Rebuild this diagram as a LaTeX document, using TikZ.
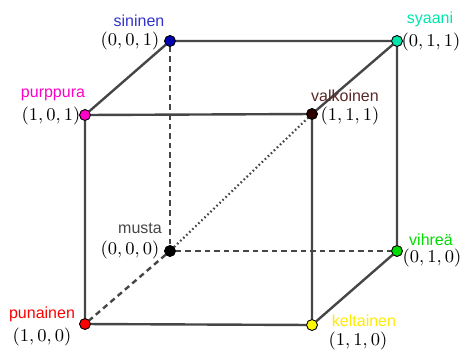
\documentclass[tikz,border=0pt]{standalone}
\usepackage{fontspec}
\setsansfont{Liberation Sans}
\usetikzlibrary{positioning}
\definecolor{edgegray}{RGB}{70,70,70}
\definecolor{cBlueTxt}{RGB}{51,51,204}
\definecolor{cBlue}{RGB}{0,0,175}
\definecolor{cMagenta}{RGB}{255,0,200}
\definecolor{cCyan}{RGB}{0,230,170}
\definecolor{cWhiteTxt}{RGB}{90,40,40}
\definecolor{cWhite}{RGB}{45,0,0}
\definecolor{cBlackTxt}{RGB}{70,70,70}
\definecolor{cGreen}{RGB}{0,220,0}
\definecolor{cYellow}{RGB}{255,235,0}
\definecolor{cYellowDot}{RGB}{255,250,0}
\tikzset{
  vertex/.style={circle,draw=black,line width=0.4pt,inner sep=0pt,minimum size=5.4pt},
  colname/.style={font=\sffamily\fontsize{8}{9}\selectfont,inner sep=0pt},
  rgb/.style={font=\fontsize{8.6}{10}\selectfont,inner sep=0pt},
  edge/.style={draw=edgegray,line width=1.2pt},
  hidden/.style={edge,dash pattern=on 2.8pt off 2pt},
  diag/.style={draw=edgegray,line width=1.1pt,dash pattern=on 0.8pt off 1.3pt}
}
\begin{document}
\begin{tikzpicture}[x=0.5pt,y=-0.5pt]
\useasboundingbox (0,0) rectangle (461,350);
% corners of the RGB cube
\node[vertex,fill=black] (musta) at (170,251) {};
\node[vertex,fill=cBlue] (sininen) at (170,41) {};
\node[vertex,fill=cCyan] (syaani) at (397,41) {};
\node[vertex,fill=cGreen] (vihrea) at (397,251) {};
\node[vertex,fill=cMagenta] (purppura) at (85,115) {};
\node[vertex,fill=cWhite] (valkoinen) at (312,114) {};
\node[vertex,fill=red] (punainen) at (85,324) {};
\node[vertex,fill=cYellowDot] (keltainen) at (312,325) {};
% hidden edges and the grey diagonal
\draw[hidden] (sininen) -- (musta);
\draw[hidden] (musta) -- (vihrea);
\draw[hidden] (musta) -- (punainen);
\draw[diag] (musta) -- (valkoinen);
% visible edges
\draw[edge] (purppura) -- (sininen) -- (syaani) -- (valkoinen) -- (purppura);
\draw[edge] (purppura) -- (punainen) -- (keltainen) -- (valkoinen);
\draw[edge] (keltainen) -- (vihrea) -- (syaani);
% redraw corners on top
\foreach \v/\c in {musta/black,sininen/cBlue,syaani/cCyan,vihrea/cGreen,purppura/cMagenta,valkoinen/cWhite,punainen/red,keltainen/cYellowDot}
  \node[vertex,fill=\c] at (\v) {};
% colour names
\node[colname,text=cBlueTxt] (tSininen) at (139,21) {sininen};
\node[colname,text=cMagenta] (tPurppura) at (53,95) {purppura};
\node[colname,text=cCyan] (tSyaani) at (430,19) {syaani};
\node[colname,text=cWhiteTxt] (tValkoinen) at (345,96) {valkoinen};
\node[colname,text=cBlackTxt] (tMusta) at (140,228) {musta};
\node[colname,text=red] (tPunainen) at (42,314) {punainen};
\node[colname,text=cGreen] (tVihrea) at (431,240) {vihreä};
\node[colname,text=cYellow] (tKeltainen) at (364,321) {keltainen};
% coordinates
\node[rgb] (kSininen) at (130,41) {$(0,0,1)$};
\node[rgb] (kPurppura) at (51,116) {$(1,0,1)$};
\node[rgb] (kSyaani) at (431,42) {$(0,1,1)$};
\node[rgb] (kValkoinen) at (350,116) {$(1,1,1)$};
\node[rgb] (kMusta) at (130,250) {$(0,0,0)$};
\node[rgb] (kPunainen) at (42,337) {$(1,0,0)$};
\node[rgb] (kVihrea) at (432,258) {$(0,1,0)$};
\node[rgb] (kKeltainen) at (358,341) {$(1,1,0)$};
\end{tikzpicture}
\end{document}
